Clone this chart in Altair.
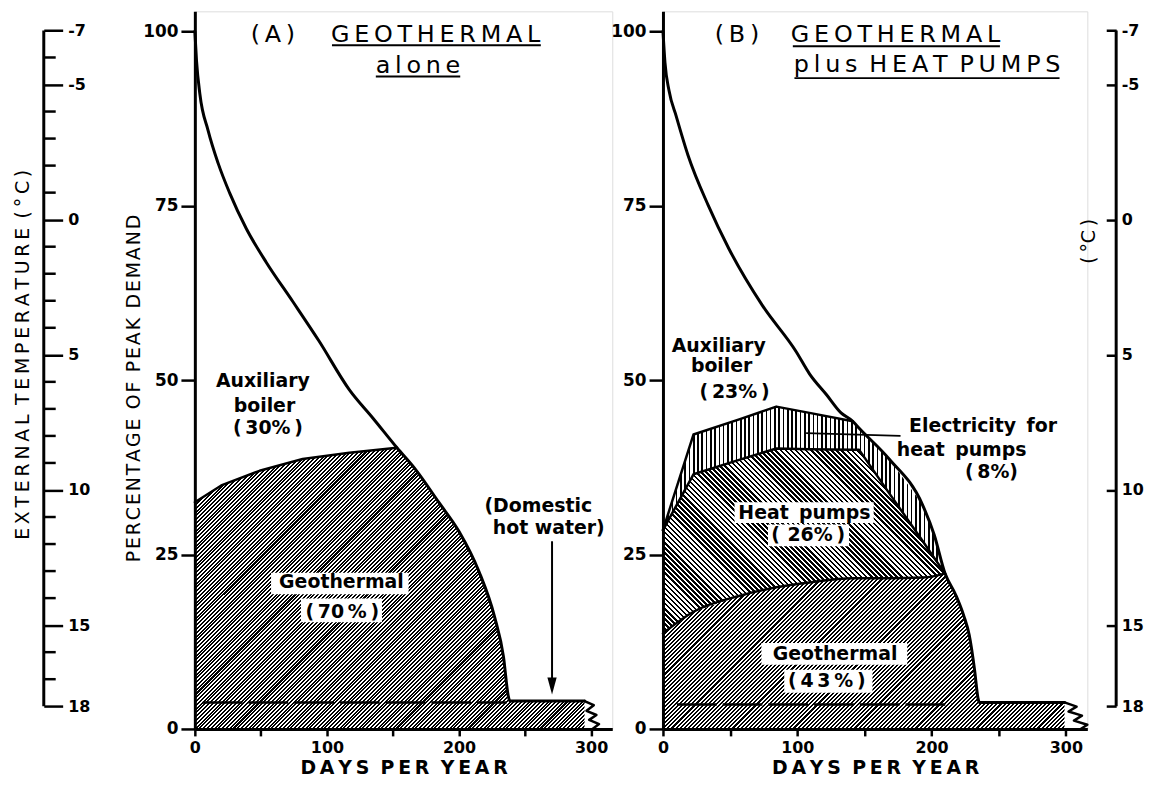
import math
import altair as alt
import pandas as pd

# ---------------- values ----------------
# Panel (A) GEOTHERMAL alone : heat-demand duration curve (% of peak demand)
A_demand_day = [0, 1.3, 3.8, 10, 17.6, 26.4, 39, 54, 74, 94, 117, 135, 153,
                167, 184.6, 200, 215, 227, 233.6, 237.4, 238.5, 295]
A_demand_pct = [100, 95.7, 91.0, 85.8, 81.1, 76.8, 71.7, 66.9, 61.3, 55.6, 48.6, 44.5, 40.3,
                37.2, 32.5, 28.3, 22.6, 16.0, 10.4, 4.6, 4.0, 4.0]
# top of the geothermal share (before it meets the demand curve)
A_geotop_day = [0, 20, 49, 81.6, 117, 153]
A_geotop_pct = [32.5, 34.9, 37.0, 38.7, 39.6, 40.3]
# domestic hot water level (dashed) and the break mark at the end
A_dhw_day = [6, 236]
A_dhw_pct = 3.8
A_zig_day = [295, 302, 296.5, 304, 298.5, 306, 301]
A_zig_pct = [4.0, 3.4, 2.6, 2.0, 1.3, 0.7, 0.0]

# Panel (B) GEOTHERMAL plus HEAT PUMPS
B_demand_day = [0, 1.5, 4.5, 9.9, 18.7, 33.8, 48.9, 74, 99.1, 109.1, 121.8, 132.6, 141.3, 146.1,
                168.4, 193.1, 202, 210, 218, 224, 228, 232, 234.5, 235.5, 299]
B_demand_pct = [100, 95.5, 91.5, 87.8, 82.2, 75.0, 68.9, 60.7, 54.1, 50.9, 47.9, 45.3, 44.1, 43.1,
                38.7, 32.2, 27.8, 22.3, 19.2, 16.2, 13.5, 8.5, 4.5, 3.8, 3.8]
B_band_day = [0, 22.7, 57.3, 84.4, 109.1, 141.3, 146.1, 168.4, 193.1, 202, 210]
B_elec_pct = [28.5, 42.2, 44.4, 46.2, 45.3, 44.1, 43.1, 38.7, 32.2, 27.8, 22.3]
B_hp_pct = [28.5, 36.5, 38.6, 40.2, 40.1, 40.0, 40.0, 33.8, 27.0, 24.5, 22.3]
B_geo_pct = [13.7, 16.8, 19.1, 20.3, 21.0, 21.6, 21.6, 21.6, 21.7, 21.9, 22.3]
B_dhw_day = [10.4, 215]
B_dhw_pct = 3.5
B_zig_day = [299, 308, 302, 312, 306, 316, 311]
B_zig_pct = [3.8, 3.2, 2.5, 1.9, 1.2, 0.6, 0.0]

# axis ticks
PCT_TICKS = [0, 25, 50, 75, 100]
DAY_TICKS = [0, 50, 100, 150, 200, 250, 300]
TEMP_MAJOR = [-7, -5, 0, 5, 10, 15, 18]
TEMP_MINOR = [-6, -4, -3, -2, -1, 1, 2, 3, 4, 6, 7, 8, 9, 11, 12, 13, 14, 16, 17]

# annotations
A_text = ["Auxiliary", "boiler", "(\u200930%\u2009)", "Geothermal", "(\u200970\u2009%\u2009)",
          "(Domestic", "hot water)"]
A_text_day = [51.5, 52.7, 55.3, 111.0, 111.6, 260.0, 267.9]
A_text_pct = [49.8, 46.3, 43.1, 21.0, 16.7, 32.0, 28.8]
A_box_x0 = [57.7, 80.3]
A_box_x1 = [161.8, 141.7]
A_box_p0 = [19.3, 15.3]
A_box_p1 = [22.4, 18.7]
A_arrow_day = 270.4
A_arrow_top = 26.9
A_arrow_tip = 6.15

B_text = ["Auxiliary", "boiler", "(\u200923%\u2009)", "Electricity\u2009 for", "heat\u2009 pumps",
          "(\u20098%)", "Heat\u2009 pumps", "(\u2009\u200926%\u2009)", "Geothermal",
          "(\u20094\u20093\u2009%\u2009)"]
B_text_day = [41.5, 43.7, 53.3, 238.3, 222.4, 244.6, 105.3, 108.1, 128.1, 122.0]
B_text_pct = [54.9, 52.0, 48.3, 43.35, 39.96, 36.8, 31.0, 27.8, 10.75, 6.83]
B_box_x0 = [53.3, 78.2, 73.3, 90.3]
B_box_x1 = [156.9, 138.6, 181.9, 156.0]
B_box_p0 = [29.5, 26.2, 9.2, 5.2]
B_box_p1 = [32.5, 29.3, 12.3, 8.5]
B_leader_day = [106.6, 176.9]
B_leader_pct = [42.4, 42.0]

A_title = ["(A)", "GEOTHERMAL", "alone"]
A_title_day = [59.1, 182.3, 168.9]
A_title_pct = [98.5, 98.5, 94.06]
A_ul_x0 = [103.8, 137.0]
A_ul_x1 = [261.9, 200.9]
A_ul_pct = [98.0, 93.5]
B_title = ["(B)", "GEOTHERMAL", "plus HEAT PUMPS"]
B_title_day = [55.1, 173.2, 196.7]
B_title_pct = [98.44, 98.44, 94.2]
B_ul_x0 = [96.7, 97.9]
B_ul_x1 = [250.9, 295.3]
B_ul_pct = [97.84, 93.28]

# temperature-axis titles (placed on the temperature scale)
TL_title, TL_title_t = "EXTERNAL TEMPERATURE (°C)", 5.0
TR_title, TR_title_t = "(\u2009°C\u2009)", 0.8

# ---------------- layout / style ----------------
FONT = "DejaVu Sans"
W_A, W_B, H = 420, 427, 722
GAP = 51
DAY_MAX = 316
PCT_TOP = 102.85
TEMP_DOM = [-7.706, 18.84]
PX_PCT = H / PCT_TOP
TH, HAIR, EN = "\u2009", "\u200a", "\u2002"


def spaced(s, sep=TH, word=EN):
    out = ""
    for i, ch in enumerate(s):
        if ch == " ":
            out += word
            continue
        out += ch
        if i < len(s) - 1 and s[i + 1] != " ":
            out += sep
    return out


def hatch(kind, w_px, h_px, period, line):
    if kind == "v":
        x1, y1, x2, y2 = 0, 0, 1, 0
        span = w_px
    else:
        r = h_px / w_px
        a = (1 + r) / (1 + r * r)
        span = (w_px + h_px) / math.sqrt(2)
        if kind == "fwd":
            x1, y1, x2, y2 = 0, 0, a, a * r
        else:
            x1, y1, x2, y2 = 0, 1, a, 1 - a * r
    n = max(1, int(round(span / period)))
    duty = line / period
    stops = []
    for i in range(n):
        t0, t1, t2 = i / n, (i + duty) / n, (i + 1) / n
        stops += [alt.GradientStop(color="black", offset=t0),
                  alt.GradientStop(color="black", offset=t1),
                  alt.GradientStop(color="white", offset=t1),
                  alt.GradientStop(color="white", offset=t2)]
    return alt.Gradient(gradient="linear", stops=stops, x1=x1, y1=y1, x2=x2, y2=y2)


xs = alt.Scale(domain=[0, DAY_MAX], nice=False, zero=False)
ys = alt.Scale(domain=[0, PCT_TOP], nice=False, zero=False)
ts = alt.Scale(domain=TEMP_DOM, nice=False, zero=False, reverse=True)


def x_axis():
    return alt.Axis(values=DAY_TICKS, labelExpr="datum.value % 100 == 0 ? datum.label : ''",
                    tickSize=7, tickWidth=2.5, tickColor="black", domainWidth=3,
                    domainColor="black", labelFont=FONT, labelFontSize=16,
                    labelFontWeight="bold", labelColor="black", labelPadding=4,
                    labelFlush=False, labelOverlap=False, grid=False, zindex=2,
                    title=spaced("DAYS PER YEAR", TH, EN + HAIR), titleFont=FONT,
                    titleFontSize=19, titleFontWeight="bold", titleColor="black",
                    titlePadding=3)


def y_axis(title):
    kw = dict(values=PCT_TICKS, tickSize=14, tickWidth=2.5, tickColor="black",
              domainWidth=3, domainColor="black", labelFont=FONT, labelFontSize=17,
              labelFontWeight="bold", labelColor="black", labelPadding=3,
              labelFlush=False, labelOverlap=False, grid=False, zindex=2)
    if title:
        kw.update(title=spaced(title, HAIR, EN), titleFont=FONT, titleFontSize=19,
                  titleFontWeight="normal", titleColor="black", titleAngle=270,
                  titleX=-62, titleY=379, titleAlign="center", titleBaseline="middle")
    else:
        kw.update(title=None)
    return alt.Axis(**kw)


def temp_axis(offset, tick, pad):
    return alt.Axis(orient="right", offset=offset, values=TEMP_MAJOR, tickSize=tick,
                    tickWidth=2.5, tickColor="black", domain=False, grid=False,
                    labelExpr="(datum.value < 0 ? '-' : '') + abs(datum.value)",
                    labelFont=FONT, labelFontSize=16, labelFontWeight="bold",
                    labelColor="black", labelPadding=pad, labelFlush=False,
                    title=None, minExtent=0)


def X(f="day"):
    return alt.X(f + ":Q", scale=xs)


def Y(f="pct"):
    return alt.Y(f + ":Q", scale=ys)


def line(days, pcts, width, interp="linear", order=False):
    df = pd.DataFrame({"day": days, "pct": pcts, "i": list(range(len(days)))})
    enc = dict(x=X(), y=Y())
    if order:
        enc["order"] = alt.Order("i:Q")
    return alt.Chart(df).mark_line(color="black", strokeWidth=width, interpolate=interp,
                                   strokeCap="round", strokeJoin="round").encode(**enc)


def texts(labels, days, pcts, size, weight, baseline="middle"):
    df = pd.DataFrame({"day": days, "pct": pcts, "label": labels})
    return alt.Chart(df).mark_text(font=FONT, fontSize=size, fontWeight=weight, color="black",
                                   align="center", baseline=baseline).encode(
        x=X(), y=Y(), text="label:N")


def boxes(x0, x1, p0, p1):
    df = pd.DataFrame({"x0": x0, "x1": x1, "p0": p0, "p1": p1})
    return alt.Chart(df).mark_rect(fill="white", strokeWidth=0).encode(
        x=X("x0"), x2="x1:Q", y=Y("p0"), y2="p1:Q")


def hrules(x0, x1, p, width, dash=None):
    df = pd.DataFrame({"x0": x0, "x1": x1, "pct": p})
    kw = dict(color="black", strokeWidth=width)
    if dash:
        kw["strokeDash"] = dash
    return alt.Chart(df).mark_rule(**kw).encode(x=X("x0"), x2="x1:Q", y=Y())


def temp_layers(xpx, minor_dir, axis, title, title_t, title_dx):
    main = alt.Chart(pd.DataFrame({"t0": [TEMP_MAJOR[0]], "t1": [TEMP_MAJOR[-1]]})).mark_rule(
        color="black", strokeWidth=3).encode(
        x=alt.value(xpx), y=alt.Y("t0:Q", scale=ts, axis=axis), y2="t1:Q")
    ttl = alt.Chart(pd.DataFrame({"t": [title_t], "label": [title]})).mark_text(
        font=FONT, fontSize=19, fontWeight="normal", color="black", angle=270,
        align="center", baseline="middle").encode(
        x=alt.value(xpx + title_dx), y=alt.Y("t:Q", scale=ts), text="label:N")
    layers = [main, ttl]
    if minor_dir:
        minor = alt.Chart(pd.DataFrame({"t": TEMP_MINOR})).mark_rule(
            color="black", strokeWidth=2.5).encode(
            x=alt.value(xpx), x2=alt.value(xpx + minor_dir), y=alt.Y("t:Q", scale=ts))
        layers.append(minor)
    return alt.layer(*layers)


# ---------------- panel A ----------------
pxA = W_A / DAY_MAX
A_area_day = A_geotop_day + [d for d in A_demand_day if d > A_geotop_day[-1]]
A_area_pct = A_geotop_pct + [p for d, p in zip(A_demand_day, A_demand_pct) if d > A_geotop_day[-1]]
dfA_area = pd.DataFrame({"day": A_area_day, "pct": A_area_pct})
gA = hatch("fwd", max(A_area_day) * pxA, max(A_area_pct) * PX_PCT, 2.7, 1.45)
areaA = alt.Chart(dfA_area).mark_area(fill=gA, strokeWidth=0).encode(
    x=alt.X("day:Q", scale=xs, axis=x_axis()),
    y=alt.Y("pct:Q", scale=ys, axis=y_axis("PERCENTAGE OF PEAK DEMAND")))

arrowA = alt.Chart(pd.DataFrame({"day": [A_arrow_day], "pct": [A_arrow_top], "p2": [A_arrow_tip + 0.5]})).mark_rule(
    color="black", strokeWidth=2).encode(x=X(), y=Y(), y2="p2:Q")
headA = alt.Chart(pd.DataFrame({"day": [A_arrow_day], "pct": [A_arrow_tip]})).mark_point(
    shape="M-0.55,-1L0,1L0.55,-1Z", size=289, filled=True, color="black", opacity=1,
    strokeWidth=0).encode(x=X(), y=Y())

pctA = alt.layer(
    areaA,
    boxes(A_box_x0, A_box_x1, A_box_p0, A_box_p1),
    hrules([A_dhw_day[0]], [A_dhw_day[1]], [A_dhw_pct], 2.5, [40, 6]),
    line(A_geotop_day, A_geotop_pct, 2.5),
    line(A_demand_day, A_demand_pct, 3, "monotone"),
    line(A_zig_day, A_zig_pct, 2.5, order=True),
    texts(A_text, A_text_day, A_text_pct, 19, "bold"),
    texts([spaced(t) for t in A_title], A_title_day, A_title_pct, 24, "normal", "alphabetic"),
    hrules(A_ul_x0, A_ul_x1, A_ul_pct, 2),
    arrowA, headA,
)
xL = 43 - 195
tempA = temp_layers(xL, 12, temp_axis(xL - W_A, 19, 5), spaced(TL_title), TL_title_t, -21)
panelA = alt.layer(pctA, tempA).resolve_scale(y="independent").properties(width=W_A, height=H)

# ---------------- panel B ----------------
pxB = W_B / DAY_MAX
B_area_day = B_band_day + [d for d in B_demand_day if d > B_band_day[-1]]
B_area_pct = B_geo_pct + [p for d, p in zip(B_demand_day, B_demand_pct) if d > B_band_day[-1]]
dfB_geo = pd.DataFrame({"day": B_area_day, "pct": B_area_pct})
dfB_band = pd.DataFrame({"day": B_band_day, "geo": B_geo_pct, "hp": B_hp_pct, "elec": B_elec_pct})
gBgeo = hatch("fwd", max(B_area_day) * pxB, max(B_area_pct) * PX_PCT, 2.9, 1.45)
gBhp = hatch("back", max(B_band_day) * pxB, (max(B_hp_pct) - min(B_geo_pct)) * PX_PCT, 3.6, 1.8)
gBel = hatch("v", max(B_band_day) * pxB, (max(B_elec_pct) - min(B_hp_pct)) * PX_PCT, 4.3, 1.7)

areaBgeo = alt.Chart(dfB_geo).mark_area(fill=gBgeo, strokeWidth=0).encode(
    x=alt.X("day:Q", scale=xs, axis=x_axis()),
    y=alt.Y("pct:Q", scale=ys, axis=y_axis(None)))
areaBhp = alt.Chart(dfB_band).mark_area(fill=gBhp, strokeWidth=0).encode(
    x=X(), y=Y("hp"), y2="geo:Q")
areaBel = alt.Chart(dfB_band).mark_area(fill=gBel, strokeWidth=0).encode(
    x=X(), y=Y("elec"), y2="hp:Q")
leaderB = alt.Chart(pd.DataFrame({"day": [B_leader_day[0]], "d2": [B_leader_day[1]],
                                  "pct": [B_leader_pct[0]], "p2": [B_leader_pct[1]]})).mark_rule(
    color="black", strokeWidth=1.8).encode(x=X(), x2="d2:Q", y=Y(), y2="p2:Q")

pctB = alt.layer(
    areaBgeo, areaBhp, areaBel,
    boxes(B_box_x0, B_box_x1, B_box_p0, B_box_p1),
    hrules([B_dhw_day[0]], [B_dhw_day[1]], [B_dhw_pct], 2.5, [40, 6]),
    line(B_band_day, B_geo_pct, 2.5, "monotone"),
    line(B_band_day, B_hp_pct, 2.5),
    line(B_band_day[:6], B_elec_pct[:6], 2.5),
    line(B_demand_day, B_demand_pct, 3, "monotone"),
    line(B_zig_day, B_zig_pct, 2.5, order=True),
    leaderB,
    texts(B_text, B_text_day, B_text_pct, 19, "bold"),
    texts([spaced(t) for t in B_title], B_title_day, B_title_pct, 24, "normal", "alphabetic"),
    hrules(B_ul_x0, B_ul_x1, B_ul_pct, 2),
)
xR = 1122 - 666
tempB = temp_layers(xR, 0, temp_axis(xR - 10 - W_B, 10, 5), TR_title, TR_title_t, -27.5)
panelB = alt.layer(pctB, tempB).resolve_scale(y="independent").properties(width=W_B, height=H)

chart = alt.hconcat(panelA, panelB, spacing=GAP, bounds="flush").properties(
    padding={"left": 5, "top": 0, "right": 0, "bottom": 0}
).configure_view(strokeWidth=0).configure(background="white")

chart.save("out.html", embed_options={"renderer": "svg", "actions": False})
